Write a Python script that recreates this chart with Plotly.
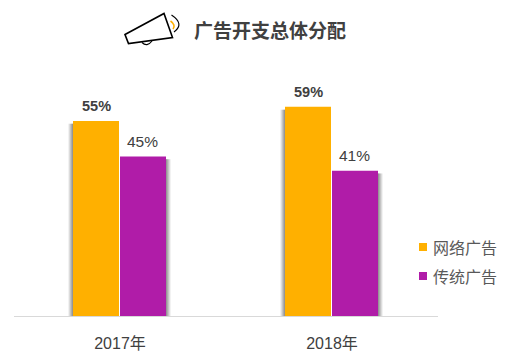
import plotly.graph_objects as go

categories = ["2017年", "2018年"]
online = [55, 59]
traditional = [45, 41]
title = "广告开支总体分配"
series_names = ["网络广告", "传统广告"]
colors = ["#FFB000", "#B01CA8"]
TEXT = "#404040"

# the page body has an 8 px margin, so the figure sits 8 px in from the window corner
PAGE = 8
W, H = 507 - PAGE, 356 - PAGE
L, R, T, B = 14 - PAGE, 69, 0, 40
plot_w = W - L - R
cat_px = plot_w / 2
px_per_value = 195 / 55
plot_h = H - T - B
bar_w = 46 / cat_px
gap = 1 / cat_px


def px(n):
    return n / cat_px


fig = go.Figure()

# soft shadow layers behind the bars
for k, alpha in zip([5, 4, 3, 2, 1], [0.08, 0.14, 0.18, 0.22, 0.28]):
    sc = f"rgba(90,90,90,{alpha})"
    fig.add_bar(x=categories, y=[v - 0.8 for v in online], width=bar_w,
                offset=-bar_w - gap - px(k), marker=dict(color=sc, line_width=0),
                showlegend=False, hoverinfo="skip")
    fig.add_bar(x=categories, y=[v - 0.8 for v in traditional], width=bar_w,
                offset=px(k), marker=dict(color=sc, line_width=0),
                showlegend=False, hoverinfo="skip")

fig.add_bar(x=categories, y=online, name=series_names[0], width=bar_w,
            offset=-bar_w - gap, marker=dict(color=colors[0], line_width=0), showlegend=False)
fig.add_bar(x=categories, y=traditional, name=series_names[1], width=bar_w,
            offset=0, marker=dict(color=colors[1], line_width=0), showlegend=False)

annotations = []
for c, a, b in zip(categories, online, traditional):
    annotations.append(dict(x=c, y=a, xref="x", yref="y", text=f"<b>{a}%</b>", showarrow=False,
                            xshift=-24, yshift=15, font=dict(size=14.5, color=TEXT, family="Liberation Sans")))
    annotations.append(dict(x=c, y=b, xref="x", yref="y", text=f"{b}%", showarrow=False,
                            xshift=22, yshift=15, font=dict(size=15.5, color=TEXT, family="Liberation Sans")))


def xp(p):
    return (p - PAGE - L) / plot_w


def yp(p):
    return 1 - (p - PAGE - T) / plot_h


# title
annotations.append(dict(x=xp(192), y=yp(30), xref="paper", yref="paper", yanchor="middle", xanchor="left",
                        text=f"<b>{title}</b>", showarrow=False,
                        font=dict(size=19, color=TEXT, family="Noto Sans CJK SC")))

shapes = []
# legend
for name, color, cy in zip(series_names, colors, [247, 276]):
    shapes.append(dict(type="rect", xref="paper", yref="paper", x0=xp(419), x1=xp(427),
                       y0=yp(cy - 4), y1=yp(cy + 4), fillcolor=color, line_width=0))
    annotations.append(dict(x=xp(431), y=yp(cy), xref="paper", yref="paper", xanchor="left", yanchor="middle",
                            text=name, showarrow=False,
                            font=dict(size=16, color="#595959", family="Noto Sans CJK SC")))

# megaphone icon
icon_pts = "M 125 34.5 L 164 13.5 L 172.5 37.5 L 128.5 43.5 Z"
handle = "M 142 42.5 Q 147 47.5 152 41"
arc_black = "M 171.5 15 Q 185 24 174 32"
arc_orange = "M 170.5 21 Q 176 25 173 29"


def ic(path):
    out, is_x = [], True
    for tok in path.split():
        if tok.isalpha():
            out.append(tok)
        else:
            v = float(tok)
            out.append(f"{xp(v):.5f}" if is_x else f"{yp(v):.5f}")
            is_x = not is_x
    return " ".join(out)


shapes += [
    dict(type="path", xref="paper", yref="paper", path=ic(icon_pts), line=dict(color="#000", width=1.6), fillcolor="#fff"),
    dict(type="path", xref="paper", yref="paper", path=ic(handle), line=dict(color="#000", width=1.2)),
    dict(type="path", xref="paper", yref="paper", path=ic(arc_black), line=dict(color="#000", width=1.2)),
    dict(type="path", xref="paper", yref="paper", path=ic(arc_orange), line=dict(color="#FFB000", width=1.6)),
]

fig.update_layout(
    width=W, height=H,
    margin=dict(l=L, r=R, t=T, b=B, pad=0),
    paper_bgcolor="#fff", plot_bgcolor="#fff",
    barmode="overlay",
    showlegend=False,
    annotations=annotations,
    shapes=shapes,
    xaxis=dict(type="category", range=[-0.5, 1.5], showgrid=False, zeroline=False, showline=True,
               linecolor="#D9D9D9", linewidth=1, ticks="", ticklabelstandoff=13,
               tickfont=dict(size=16, color=TEXT, family="Liberation Sans, Noto Sans CJK SC")),
    yaxis=dict(range=[0, plot_h / px_per_value], visible=False),
)
fig.write_html("out.html", config={"displayModeBar": False})
